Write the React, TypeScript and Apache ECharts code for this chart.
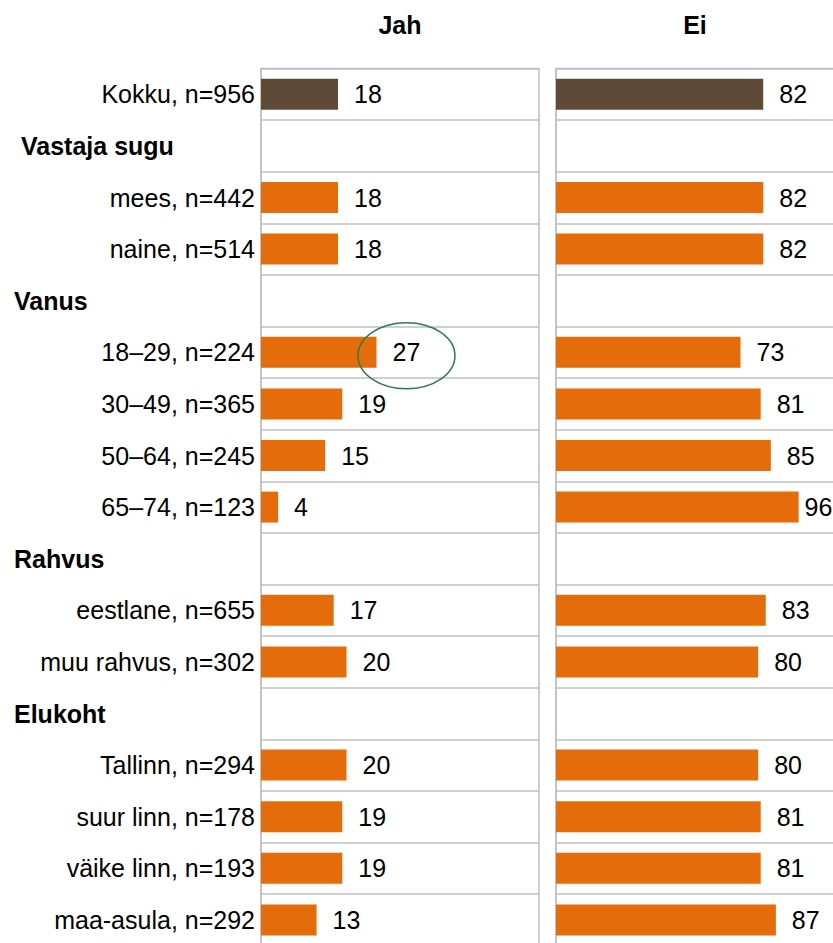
import React, { useEffect, useRef } from 'react';
import * as echarts from 'echarts';

const categories = [
  'Kokku, n=956',
  'Vastaja sugu',
  'mees, n=442',
  'naine, n=514',
  'Vanus',
  '18–29, n=224',
  '30–49, n=365',
  '50–64, n=245',
  '65–74, n=123',
  'Rahvus',
  'eestlane, n=655',
  'muu rahvus, n=302',
  'Elukoht',
  'Tallinn, n=294',
  'suur linn, n=178',
  'väike linn, n=193',
  'maa-asula, n=292',
];
const headers = ['Vastaja sugu', 'Vanus', 'Rahvus', 'Elukoht'];
const jahValues: (number | string)[] = [18, '-', 18, 18, '-', 27, 19, 15, 4, '-', 17, 20, '-', 20, 19, 19, 13];
const eiValues: (number | string)[] = [82, '-', 82, 82, '-', 73, 81, 85, 96, '-', 83, 80, '-', 80, 81, 81, 87];
const panelTitles = ['Jah', 'Ei'];
const axisMax = [65, 110];

const FONT = "'Liberation Sans', Arial, Helvetica, sans-serif";
const BROWN = '#5E4A37';
const ORANGE = '#E46C0A';
const GRID_COLOR = '#bfbfbf';
const ROW_H = 51.6;
const TOP = 68.5;

function buildData(values: (number | string)[], panel: number) {
  return values.map((v, i) => {
    const item: any = { value: v, itemStyle: { color: i === 0 ? BROWN : ORANGE } };
    if (panel === 1 && typeof v === 'number' && v > 90) {
      item.label = { distance: 6 };
    }
    return item;
  });
}

export default function App() {
  const ref = useRef<HTMLDivElement>(null);
  useEffect(() => {
    if (!ref.current) return;
    const chart = echarts.init(ref.current, null, { renderer: 'svg' });
    const gridH = ROW_H * categories.length;
    const gridBase = {
      top: TOP,
      width: 278,
      height: gridH,
      show: true,
      borderColor: GRID_COLOR,
      borderWidth: 1.5,
      outerBoundsMode: 'none',
      containLabel: false,
    };
    const option: any = {
      animation: false,
      backgroundColor: '#ffffff',
      grid: [
        { ...gridBase, left: 261 },
        { ...gridBase, left: 556 },
      ],
      xAxis: panelTitles.map((t, i) => ({
        type: 'value',
        gridIndex: i,
        min: 0,
        max: axisMax[i],
        position: 'top',
        name: t,
        nameLocation: 'middle',
        nameGap: 31,
        nameTextStyle: { fontFamily: FONT, fontSize: 25, fontWeight: 'bold', color: '#000' },
        axisLine: { show: false },
        axisTick: { show: false },
        axisLabel: { show: false },
        splitLine: { show: false },
      })),
      yAxis: [0, 1].map((i) => ({
        type: 'category',
        gridIndex: i,
        data: categories,
        inverse: true,
        axisLine: { show: true, lineStyle: { color: GRID_COLOR, width: 1.5 } },
        axisTick: { show: false },
        splitLine: { show: true, interval: 0, lineStyle: { color: GRID_COLOR, width: 1.5 } },
        axisLabel:
          i === 0
            ? {
                show: true,
                interval: 0,
                margin: 6,
                fontFamily: FONT,
                fontSize: 25,
                color: '#000',
                formatter: (v: string) =>
                  headers.includes(v) ? `{${v === 'Vastaja sugu' ? 'h1' : 'h'}|${v}}` : v,
                rich: {
                  h: { fontFamily: FONT, fontSize: 25, fontWeight: 'bold', color: '#000', width: 241, align: 'left' },
                  h1: { fontFamily: FONT, fontSize: 25, fontWeight: 'bold', color: '#000', width: 234, align: 'left' },
                },
              }
            : { show: false },
      })),
      series: [jahValues, eiValues].map((vals, i) => ({
        type: 'bar',
        xAxisIndex: i,
        yAxisIndex: i,
        barWidth: '60%',
        data: buildData(vals, i),
        label: {
          show: true,
          position: 'right',
          distance: 16,
          fontFamily: FONT,
          fontSize: 25,
          color: '#000',
        },
      })),
    };
    chart.setOption(option);

    // Annotation ellipse around the highest "Jah" value
    let hi = 0;
    jahValues.forEach((v, i) => {
      if (typeof v === 'number' && v > (jahValues[hi] as number)) hi = i;
    });
    const pt = chart.convertToPixel({ gridIndex: 0 }, [jahValues[hi] as number, hi]) as number[];
    if (pt) {
      chart.setOption({
        graphic: [
          {
            type: 'ellipse',
            z: 100,
            shape: { cx: pt[0] + 30, cy: pt[1] + 3.5, rx: 48.5, ry: 33 },
            style: { fill: 'transparent', stroke: '#2E7A4E', lineWidth: 1.5 },
          },
        ],
      });
    }
    return () => chart.dispose();
  }, []);
  return (
    <div
      style={{ position: 'absolute', left: 0, top: 0, width: 833, height: 943, overflow: 'hidden', background: '#fff' }}
    >
      <div ref={ref} style={{ position: 'absolute', left: 0, top: 0, width: 880, height: 1000 }} />
    </div>
  );
}
